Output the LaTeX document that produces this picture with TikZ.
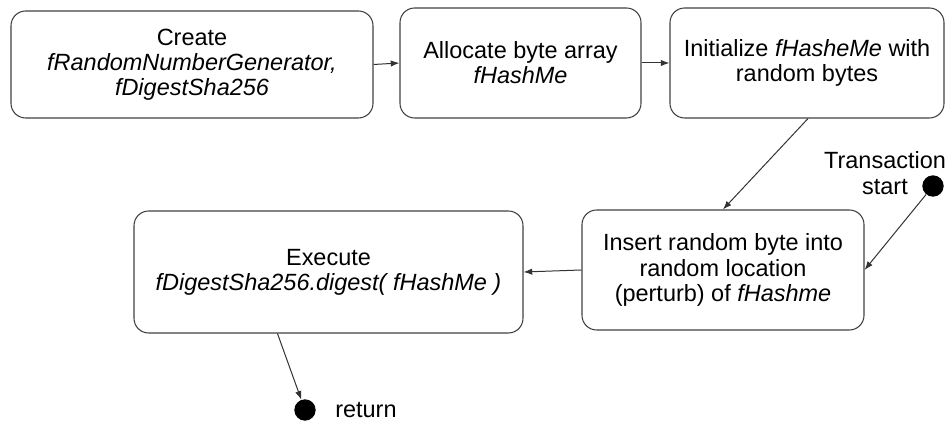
\documentclass[tikz,border=0pt]{standalone}
\usepackage{fontspec}
\setmainfont{Liberation Sans}
\usetikzlibrary{arrows.meta,calc}
\begin{document}
\begin{tikzpicture}[x=0.75pt,y=-0.75pt,
  box/.style={draw=black!75,line width=0.8pt,rounded corners=11pt,align=center,inner sep=0pt,font=\fontsize{17.6}{18.9}\selectfont},
  lbl/.style={align=center,inner sep=0pt,font=\fontsize{17.6}{19.2}\selectfont},
  dot/.style={circle,fill=black,inner sep=0pt,minimum size=16pt},
  arr/.style={draw=black!80,line width=0.75pt,-{Latex[length=6.5pt,width=4.8pt]}}]
\useasboundingbox (0,0) rectangle (947,423);
\node[box,minimum width=271.5pt,minimum height=80.25pt] (b1) at (192,64.5) {Create\\\textit{fRandomNumberGenerator,}\\\textit{fDigestSha256}};
\node[box,minimum width=180.75pt,minimum height=82.5pt] (b2) at (520.5,63) {Allocate byte array\\\textit{fHashMe}};
\node[box,minimum width=205.5pt,minimum height=82.5pt] (b3) at (807,63) {Initialize \textit{fHasheMe} with\\random bytes};
\node[box,minimum width=211.5pt,minimum height=90pt] (b4) at (723,270) {Insert random byte into\\random location\\(perturb) of \textit{fHashme}};
\node[box,minimum width=291.75pt,minimum height=91.5pt] (b5) at (328.5,272) {Execute\\\textit{fDigestSha256.digest( fHashMe )}};
\node[dot] (tsdot) at (933,186) {};
\node[lbl] (tslbl) at (885,173) {Transaction\\start};
\node[dot] (retdot) at (305,410) {};
\node[lbl,anchor=west] (retlbl) at (335,410) {return};
\draw[arr] (b1.east) -- (b2.west);
\draw[arr] (b2.east) -- (b3.west);
\draw[arr] ($(b3.south)+(1,0)$) -- (b4.north);
\draw[arr] (tsdot) -- (b4.east);
\draw[arr] (b4.west) -- (b5.east);
\draw[arr] ($(b5.south west)+(144,0)$) -- (retdot);
\end{tikzpicture}
\end{document}
